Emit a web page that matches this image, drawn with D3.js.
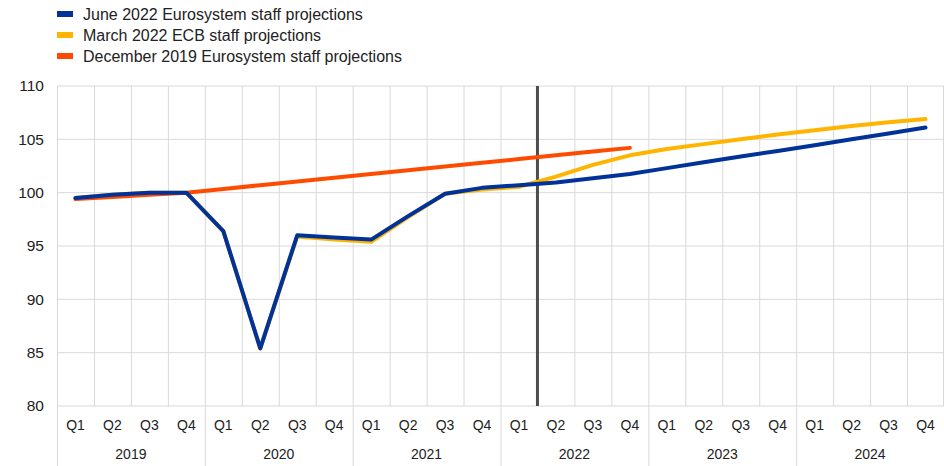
<!DOCTYPE html>
<html><head><meta charset="utf-8">
<script src="https://cdn.jsdelivr.net/npm/d3@7/dist/d3.min.js"></script>
<style>body{margin:0;background:#fff}svg{display:block;font-family:"Liberation Sans",Arial,sans-serif}</style>
</head><body><svg id="c" width="944" height="466"></svg>
<script>
const years = ["2019","2020","2021","2022","2023","2024"];
const quarters = ["Q1","Q2","Q3","Q4"];
const seriesNames = ["June 2022 Eurosystem staff projections","March 2022 ECB staff projections","December 2019 Eurosystem staff projections"];
const june2022 = [99.5,99.8,100.0,100.0, 96.4,85.4,96.0,95.8, 95.6,97.8,99.9,100.45, 100.7,100.95,101.35,101.75, 102.3,102.85,103.4,103.9, 104.45,105.0,105.55,106.1];
const march2022 = [99.5,99.8,100.0,100.0, 96.4,85.4,95.9,95.6, 95.4,97.7,99.9,100.3, 100.55,101.5,102.6,103.5, 104.1,104.55,105.0,105.45, 105.85,106.25,106.6,106.9];
const dec2019 = [99.4,99.6,99.8,100.0, 100.35,100.7,101.05,101.4, 101.75,102.1,102.45,102.8, 103.15,103.5,103.85,104.2];
const yTicks = [80,85,90,95,100,105,110];
const colors = ["#003299","#FFB400","#FF4B00"];
const cutoffIndex = 13; // boundary after 2022 Q1

const svg = d3.select("#c");
const L = 57, R = 944, T = 86, B = 406;
const keys = [];
years.forEach(y => quarters.forEach(q => keys.push(y + "-" + q)));
const x = d3.scaleBand().domain(keys).range([L, R]);
const y = d3.scaleLinear().domain([80,110]).range([B, T]);
const bw = x.bandwidth();

// grid
const g = svg.append("g");
g.selectAll(".h").data(yTicks).join("line")
  .attr("x1", L).attr("x2", R).attr("y1", d => y(d)).attr("y2", d => y(d))
  .attr("stroke", "#d9d9d9").attr("stroke-width", 1);
g.selectAll(".v").data(keys).join("line")
  .attr("x1", d => x(d) + 0.5).attr("x2", d => x(d) + 0.5)
  .attr("y1", T).attr("y2", (d, i) => i % 4 === 0 ? 466 : B)
  .attr("stroke", "#d9d9d9").attr("stroke-width", 1);
g.append("line").attr("x1", R - 0.5).attr("x2", R - 0.5).attr("y1", T).attr("y2", B).attr("stroke", "#d9d9d9");

// y labels
svg.selectAll(".yl").data(yTicks).join("text")
  .attr("x", 44).attr("y", d => y(d)).attr("dy", "0.35em")
  .attr("text-anchor", "end").attr("font-size", 15.5).attr("fill", "#222")
  .text(d => d);

// x labels
svg.selectAll(".ql").data(keys).join("text")
  .attr("x", d => x(d) + bw / 2).attr("y", 425).attr("dy", "0.35em")
  .attr("text-anchor", "middle").attr("font-size", 14).attr("fill", "#222")
  .text(d => d.split("-")[1]);
svg.selectAll(".yrl").data(years).join("text")
  .attr("x", d => x(d + "-Q1") + bw * 2).attr("y", 454).attr("dy", "0.35em")
  .attr("text-anchor", "middle").attr("font-size", 14).attr("fill", "#222")
  .text(d => d);

// vertical cutoff line
svg.append("line")
  .attr("x1", x(keys[cutoffIndex])).attr("x2", x(keys[cutoffIndex]))
  .attr("y1", T).attr("y2", B).attr("stroke", "#4d4d4d").attr("stroke-width", 3);

const line = d3.line().x((d, i) => x(keys[i]) + bw / 2).y(d => y(d));
const order = [[march2022, 1], [dec2019, 2], [june2022, 0]];
order.forEach(([data, ci]) => {
  svg.append("path").attr("d", line(data)).attr("fill", "none")
    .attr("stroke", colors[ci]).attr("stroke-width", 4)
    .attr("stroke-linejoin", "round").attr("stroke-linecap", "round");
});

// legend
const lg = svg.append("g");
seriesNames.forEach((n, i) => {
  const cy = 14 + i * 21;
  lg.append("rect").attr("x", 57).attr("y", cy - 3).attr("width", 16).attr("height", 6).attr("fill", colors[i]);
  lg.append("text").attr("x", 83).attr("y", cy).attr("dy", "0.35em")
    .attr("font-size", 16).attr("fill", "#222").text(n);
});
</script></body></html>
